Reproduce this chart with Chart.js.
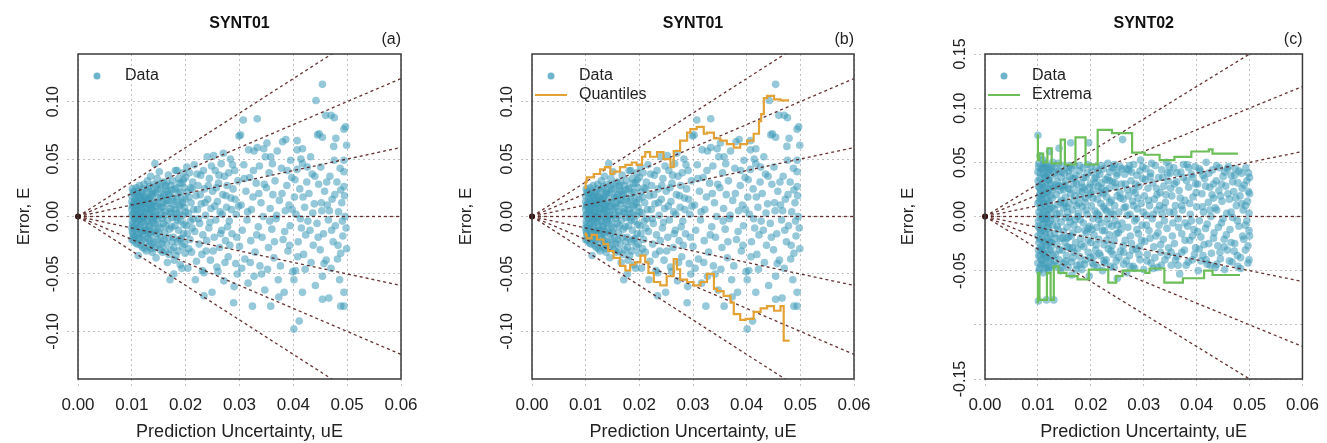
<!DOCTYPE html>
<html>
<head>
<meta charset="UTF-8">
<title>Error vs prediction uncertainty</title>
<script src="https://cdn.jsdelivr.net/npm/chart.js@4.4.0/dist/chart.umd.min.js"></script>
<style>
  body { margin: 0; background: #fff; }
  #wrap { position: relative; width: 1327px; height: 443px; }
  .panel { position: absolute; top: 0; height: 443px; }
</style>
</head>
<body>
<div id="wrap">
  <div class="panel" style="left:0px;width:442px"><canvas id="ca" width="442" height="443"></canvas></div>
  <div class="panel" style="left:442px;width:442px"><canvas id="cb" width="442" height="443"></canvas></div>
  <div class="panel" style="left:884px;width:443px"><canvas id="cc" width="443" height="443"></canvas></div>
</div>
<script>
// axis ticks
const xTicks = [0, 0.01, 0.02, 0.03, 0.04, 0.05, 0.06];
const yTicks01 = [-0.10, -0.05, 0, 0.05, 0.10];
const yTicks02 = [-0.15, -0.10, -0.05, 0, 0.05, 0.10, 0.15];
const yUnlabelled02 = [-0.10];
// reference lines E = k * uE
const fanSlopes = [-3, -2, -1, 0, 1, 2, 3];

// SYNT01 : [uE, E]
const synt01 = [
  [0.0100,0.018],[0.0100,-0.010],[0.0100,0.006],[0.0100,-0.020],[0.0100,0.013],[0.0101,-0.004],[0.0101,0.009],[0.0101,0.024],[0.0101,-0.013],
  [0.0102,-0.015],[0.0102,0.002],[0.0103,0.022],[0.0103,-0.021],[0.0104,0.012],[0.0104,-0.009],[0.0105,0.004],[0.0105,-0.002],
  [0.0106,0.016],[0.0106,-0.018],[0.0107,0.007],[0.0107,-0.012],[0.0108,0.025],[0.0108,-0.006],[0.0109,0.001],[0.0109,0.013],
  [0.0110,-0.024],[0.0110,0.020],[0.0111,-0.015],[0.0111,0.006],[0.0112,-0.034],[0.0112,-0.003],[0.0113,0.011],[0.0113,0.017],
  [0.0114,-0.010],[0.0114,0.027],[0.0115,-0.019],[0.0115,0.003],[0.0116,0.009],[0.0116,-0.007],[0.0117,0.015],[0.0117,-0.025],
  [0.0118,-0.001],[0.0118,0.021],[0.0119,-0.013],[0.0119,0.005],[0.0120,0.012],[0.0120,-0.020],[0.0121,-0.005],[0.0121,0.024],
  [0.0122,0.000],[0.0122,-0.016],[0.0123,0.010],[0.0123,0.018],[0.0124,-0.009],[0.0124,-0.028],[0.0125,0.004],[0.0125,0.014],
  [0.0126,-0.012],[0.0127,0.022],[0.0127,-0.030],[0.0128,0.007],[0.0129,-0.004],[0.0129,0.031],[0.0130,-0.019],[0.0131,0.014],
  [0.0131,0.002],[0.0132,-0.026],[0.0133,0.026],[0.0133,-0.008],[0.0134,0.010],[0.0135,-0.016],[0.0135,0.035],[0.0136,-0.001],
  [0.0137,0.019],[0.0138,-0.031],[0.0138,0.005],[0.0139,-0.011],[0.0140,0.028],[0.0141,-0.022],[0.0141,0.013],[0.0142,0.000],
  [0.0143,0.046],[0.0143,-0.006],[0.0144,0.021],[0.0145,-0.036],[0.0145,0.009],[0.0146,-0.015],[0.0147,0.033],[0.0148,-0.002],
  [0.0149,0.016],[0.0150,-0.025],[0.0150,0.006],[0.0151,0.039],[0.0152,-0.010],[0.0153,0.024],[0.0154,-0.019],[0.0155,0.002],
  [0.0156,0.012],[0.0157,-0.031],[0.0158,0.030],[0.0159,-0.006],[0.0160,0.019],
  [0.0161,-0.014],[0.0162,0.004],[0.0163,0.027],[0.0164,-0.024],[0.0165,0.011],[0.0166,-0.040],[0.0167,-0.003],[0.0168,0.036],
  [0.0169,0.018],[0.0170,-0.011],[0.0171,-0.055],[0.0172,0.007],[0.0173,-0.029],[0.0174,0.023],[0.0175,-0.001],[0.0176,0.031],
  [0.0177,-0.018],[0.0178,-0.050],[0.0179,0.013],[0.0180,-0.008],[0.0181,0.040],[0.0182,-0.034],[0.0183,0.003],[0.0184,0.040],
  [0.0185,-0.022],[0.0186,0.020],[0.0187,-0.012],[0.0188,0.009],[0.0189,0.029],[0.0190,-0.042],[0.0191,-0.004],[0.0192,0.016],
  [0.0193,0.029],[0.0194,-0.026],[0.0195,0.001],[0.0196,-0.015],[0.0197,0.025],[0.0198,0.008],[0.0199,-0.032],[0.0200,0.034],
  [0.0201,-0.008],[0.0203,0.021],[0.0204,-0.045],[0.0205,0.003],[0.0207,0.038],[0.0208,-0.020],[0.0210,0.012],[0.0211,-0.031],
  [0.0213,0.030],[0.0214,-0.002],[0.0216,0.045],[0.0217,-0.013],[0.0219,0.018],[0.0220,-0.039],[0.0222,0.006],[0.0223,0.027],
  [0.0225,-0.024],[0.0226,-0.006],[0.0228,0.036],[0.0229,0.011],[0.0231,-0.047],[0.0232,-0.016],[0.0234,-0.069],[0.0234,-0.049],
  [0.0235,0.024],[0.0237,0.001],[0.0238,-0.030],[0.0240,0.052],[0.0241,0.015],[0.0243,-0.010],[0.0244,0.033],[0.0246,-0.038],
  [0.0247,0.007],[0.0249,-0.066],[0.0250,0.022],[0.0252,0.053],[0.0253,-0.018],[0.0255,0.040],[0.0256,-0.003],[0.0258,-0.044],
  [0.0259,0.013],[0.0261,0.029],[0.0263,-0.027],[0.0264,0.004],[0.0266,0.046],[0.0267,-0.012],[0.0269,0.019],[0.0271,-0.056],
  [0.0272,0.035],[0.0274,-0.021],[0.0276,0.008],[0.0277,0.027],[0.0279,-0.035],[0.0281,-0.004],[0.0283,0.050],[0.0284,0.016],
  [0.0286,-0.015],[0.0288,0.024],[0.0289,-0.075],[0.0291,0.040],[0.0293,-0.041],[0.0294,0.002],[0.0296,-0.050],[0.0297,0.031],
  [0.0299,0.070],[0.0300,-0.026],
  [0.0302,0.071],[0.0303,0.010],[0.0305,-0.012],[0.0307,0.084],[0.0308,0.045],[0.0310,-0.037],[0.0312,0.022],[0.0314,-0.003],
  [0.0316,-0.058],[0.0317,0.058],[0.0319,0.034],[0.0321,-0.021],[0.0322,0.006],[0.0324,-0.078],[0.0325,0.017],[0.0327,-0.052],
  [0.0327,0.057],[0.0329,-0.031],[0.0331,0.029],[0.0333,0.085],[0.0333,0.060],[0.0335,-0.009],[0.0337,0.044],[0.0338,-0.043],
  [0.0340,0.012],[0.0342,-0.018],[0.0344,0.000],[0.0345,0.059],[0.0347,-0.064],[0.0348,0.052],[0.0350,0.025],[0.0352,-0.046],
  [0.0354,-0.027],[0.0355,0.038],[0.0357,0.007],[0.0358,-0.078],[0.0358,0.052],[0.0360,-0.011],[0.0362,0.019],[0.0364,-0.036],
  [0.0366,0.031],[0.0368,-0.002],[0.0370,0.057],[0.0372,-0.055],[0.0374,0.014],[0.0376,-0.043],[0.0378,0.042],[0.0380,0.065],
  [0.0381,-0.020],[0.0383,-0.066],[0.0385,0.005],[0.0386,0.067],[0.0388,0.027],[0.0390,-0.030],[0.0392,0.010],[0.0394,-0.008],
  [0.0395,0.049],[0.0397,0.034],[0.0399,-0.048],
  [0.0401,-0.098],[0.0401,-0.055],[0.0402,0.017],[0.0404,-0.047],[0.0405,0.002],[0.0407,0.066],[0.0407,0.058],[0.0407,0.041],
  [0.0409,-0.022],[0.0411,-0.091],[0.0412,0.024],[0.0414,0.050],[0.0415,-0.010],[0.0417,0.059],[0.0417,-0.066],[0.0417,0.046],
  [0.0419,-0.033],[0.0421,0.008],[0.0423,-0.016],[0.0425,0.030],[0.0427,-0.004],[0.0429,0.020],[0.0432,0.052],[0.0433,-0.040],
  [0.0435,0.037],[0.0437,-0.025],[0.0439,0.011],[0.0441,-0.060],[0.0442,0.101],[0.0444,-0.006],[0.0445,0.071],[0.0447,0.028],
  [0.0448,0.072],[0.0450,-0.029],[0.0451,0.043],[0.0453,0.005],[0.0454,0.115],[0.0454,0.069],[0.0454,-0.072],[0.0454,-0.052],
  [0.0456,-0.015],[0.0458,0.022],[0.0460,0.088],[0.0461,-0.038],[0.0463,0.010],[0.0465,-0.003],[0.0466,-0.071],[0.0468,0.035],
  [0.0470,0.088],[0.0470,-0.045],[0.0472,0.015],[0.0474,-0.022],[0.0475,0.061],[0.0476,0.086],[0.0476,0.049],[0.0478,-0.008],
  [0.0479,0.068],[0.0481,0.030],[0.0482,-0.037],[0.0484,0.004],[0.0486,-0.055],[0.0488,0.023],[0.0488,-0.032],[0.0488,-0.078],
  [0.0490,0.012],[0.0492,-0.017],[0.0494,0.076],[0.0494,0.049],[0.0494,0.039],[0.0494,0.026],[0.0494,-0.066],[0.0494,-0.078],
  [0.0496,0.000],[0.0497,0.078],[0.0498,-0.010],[0.0499,0.062],
  [0.01005,0.001],[0.01015,-0.007],[0.01025,0.010],[0.01035,-0.017],[0.01045,0.020],[0.01055,-0.001],[0.01065,0.005],[0.01075,-0.023],
  [0.01085,0.014],[0.01095,-0.010],[0.01105,0.009],[0.01115,0.022],[0.01125,-0.019],[0.01135,0.000],[0.01145,-0.004],[0.01155,0.018],
  [0.01165,-0.014],[0.01175,0.003],[0.01185,0.011],[0.01195,-0.027],[0.01205,0.017],[0.01215,-0.001],[0.01225,0.028],[0.01235,-0.012],
  [0.01245,0.007],[0.01255,-0.022],[0.01265,0.016],[0.01275,-0.003],[0.01285,0.012],[0.01295,-0.015],[0.01305,0.024],[0.01315,-0.009],
  [0.01325,0.003],[0.01335,-0.021],[0.01345,0.017],[0.01355,0.006],[0.01365,-0.028],[0.01375,0.010],[0.01385,-0.005],[0.01395,0.022],
  [0.0142,-0.013],[0.0144,0.004],[0.0146,0.027],[0.0147,-0.020],[0.0149,-0.008],[0.0151,0.012],[0.0153,-0.029],[0.0154,0.017],
  [0.0156,-0.002],[0.0158,0.008],[0.0160,-0.020],[0.0162,0.024],[0.0163,-0.008],[0.0165,0.030],[0.0167,0.014],[0.0169,-0.033],
  [0.0171,0.020],[0.0173,0.003],[0.0175,-0.022],[0.0177,0.010],[0.0179,-0.038],[0.0181,0.006],[0.0183,0.025],[0.0185,-0.003],
  [0.0187,0.033],[0.0189,-0.020],[0.0191,0.010],[0.0193,-0.045],[0.0195,0.038],[0.0197,-0.007],[0.0199,0.015],
  [0.0202,0.043],[0.0206,-0.028],[0.0209,0.025],[0.0212,-0.010],[0.0215,0.006],[0.0218,-0.055],[0.0221,0.037],[0.0224,-0.002],
  [0.0227,0.019],[0.0230,-0.033],[0.0233,0.040],[0.0236,0.012],[0.0239,-0.021],[0.0242,0.027],[0.0245,-0.005],[0.0248,0.044],
  [0.0251,-0.030],[0.0254,0.009],[0.0257,0.025],[0.0260,-0.048],[0.0262,0.036],[0.0265,-0.015],[0.0268,0.002],[0.0270,0.055],
  [0.0273,-0.040],[0.0275,0.018],[0.0278,-0.009],[0.0280,0.038],[0.0282,-0.025],[0.0285,0.006],[0.0287,0.045],[0.0290,-0.061],
  [0.0292,0.015],[0.0295,-0.018],[0.0298,0.009],
  [0.0304,-0.045],[0.0309,0.033],[0.0315,0.004],[0.0320,-0.040],[0.0326,0.040],[0.0332,-0.016],[0.0336,0.020],[0.0341,-0.050],
  [0.0346,0.028],[0.0351,0.064],[0.0356,-0.004],[0.0361,0.046],[0.0365,-0.022],[0.0369,0.001],[0.0373,-0.070],[0.0379,0.020],
  [0.0384,-0.013],[0.0389,0.040],[0.0393,-0.025],[0.0398,0.006],[0.0403,0.032],[0.0408,-0.035],[0.0413,-0.002],[0.0418,0.017],
  [0.0422,-0.046],[0.0426,0.043],[0.0431,-0.012],[0.0436,0.003],[0.0440,0.035],[0.0446,-0.018],[0.0452,0.012],[0.0457,-0.041],
  [0.0462,0.030],[0.0467,0.005],[0.0471,-0.012],[0.0477,0.019],[0.0483,-0.025],[0.0487,0.042],[0.0491,-0.004],[0.0495,0.018],
  [0.0499,-0.028],
  [0.0132,0.016],[0.0134,-0.014],[0.0136,0.008],[0.0137,-0.024],[0.0139,0.020],[0.0140,-0.003],[0.0142,0.011],[0.0144,-0.027],
  [0.0146,0.001],[0.0148,0.023],[0.0150,-0.014],[0.0152,0.028],[0.0154,0.008],[0.0156,-0.024],[0.0158,0.018],[0.0160,0.001],
  [0.0162,-0.030],[0.0164,0.014],[0.0166,0.022],[0.0168,-0.018],[0.0170,0.004],[0.0172,0.027],[0.0174,-0.009],[0.0176,0.016],
  [0.0178,-0.027],[0.0180,0.024],[0.0182,-0.001],[0.0184,0.015],[0.0186,-0.030],[0.0188,0.003],[0.0190,0.021],[0.0192,-0.019],
  [0.0194,0.012],[0.0196,0.032],[0.0198,-0.024],[0.0200,0.004],[0.0203,-0.015],[0.0206,0.017],[0.0209,-0.004],[0.0212,0.024]
];

// SYNT02 : [uE, E]
const synt02 = [
  [0.0100,0.075],[0.0100,0.041],[0.0100,0.012],[0.0100,-0.018],[0.0100,-0.043],[0.0101,-0.078],[0.0101,0.028],[0.0101,-0.004],
  [0.0101,-0.031],[0.0102,0.049],[0.0102,0.004],[0.0102,-0.024],[0.0103,0.019],[0.0103,-0.011],[0.0103,-0.048],[0.0104,0.056],
  [0.0104,0.035],[0.0104,-0.037],[0.0105,0.008],[0.0105,-0.015],[0.0106,0.024],[0.0106,-0.028],[0.0106,0.044],[0.0107,-0.002],
  [0.0107,-0.040],[0.0108,0.015],[0.0108,-0.021],[0.0109,0.031],[0.0109,-0.008],[0.0110,0.052],[0.0110,-0.052],[0.0110,0.002],
  [0.0111,0.039],[0.0111,-0.034],[0.0112,-0.014],[0.0112,0.021],[0.0113,0.010],[0.0113,-0.045],[0.0114,0.047],[0.0114,-0.026],
  [0.0115,-0.003],[0.0115,0.028],[0.0116,-0.077],[0.0116,0.016],[0.0116,-0.038],[0.0117,0.040],[0.0117,-0.010],[0.0118,0.006],
  [0.0118,-0.020],[0.0119,0.034],[0.0119,-0.047],[0.0120,-0.050],[0.0120,0.023],[0.0121,-0.006],[0.0121,0.043],[0.0122,0.060],
  [0.0122,-0.031],[0.0122,0.012],[0.0123,-0.017],[0.0124,0.030],[0.0124,-0.041],[0.0125,0.001],
  [0.0126,0.046],[0.0126,-0.024],[0.0127,0.017],[0.0128,-0.008],[0.0128,0.050],[0.0129,-0.045],[0.0130,-0.077],[0.0130,0.027],
  [0.0131,-0.016],[0.0131,0.007],[0.0132,0.038],[0.0133,-0.035],[0.0133,0.045],[0.0134,-0.002],[0.0135,0.020],[0.0135,-0.046],
  [0.0136,-0.026],[0.0137,0.032],[0.0137,0.011],[0.0138,-0.012],[0.0139,0.042],[0.0140,0.063],[0.0140,-0.040],[0.0141,0.003],
  [0.0142,0.024],[0.0142,-0.020],[0.0143,-0.050],[0.0144,0.036],[0.0144,-0.005],[0.0145,0.015],[0.0146,-0.031],[0.0146,0.047],
  [0.0147,0.028],[0.0148,-0.014],[0.0149,0.008],[0.0149,-0.043],[0.0150,0.040],[0.0151,-0.024],[0.0152,0.018],[0.0152,-0.001],
  [0.0153,0.033],[0.0154,-0.036],[0.0155,0.045],[0.0155,-0.010],[0.0156,0.004],[0.0157,-0.047],[0.0157,0.026],[0.0158,-0.019],
  [0.0159,0.012],[0.0160,0.037],[0.0160,-0.029],[0.0161,-0.005],[0.0162,0.068],[0.0162,0.021],[0.0163,-0.042],[0.0164,0.044],
  [0.0164,-0.054],[0.0165,0.006],[0.0166,-0.015],[0.0167,0.030],[0.0168,-0.033],[0.0168,0.015],[0.0169,0.047],[0.0170,-0.003],
  [0.0171,-0.024],[0.0172,0.038],[0.0173,0.010],[0.0174,-0.045],[0.0175,0.024],
  [0.0176,-0.012],[0.0177,0.003],[0.0178,0.042],[0.0179,-0.037],[0.0180,0.018],[0.0181,-0.020],[0.0182,0.031],[0.0183,-0.049],
  [0.0184,0.009],[0.0185,0.045],[0.0186,-0.006],[0.0187,-0.028],[0.0188,0.025],[0.0189,0.013],[0.0190,-0.040],[0.0191,0.036],
  [0.0192,-0.015],[0.0193,0.002],[0.0194,0.048],[0.0195,-0.033],[0.0196,0.068],[0.0196,0.020],[0.0197,-0.055],[0.0198,-0.009],
  [0.0199,0.030],[0.0200,-0.024],[0.0201,0.010],[0.0202,0.041],[0.0203,-0.043],[0.0204,-0.002],[0.0205,0.024],[0.0206,-0.017],
  [0.0207,0.035],[0.0208,0.005],[0.0209,-0.031],[0.0210,0.046],[0.0211,-0.010],[0.0212,0.016],[0.0213,-0.047],[0.0214,0.028],
  [0.0215,-0.021],[0.0216,0.001],[0.0217,0.039],[0.0218,-0.036],[0.0219,0.012],[0.0220,-0.006],[0.0221,0.031],[0.0222,-0.050],
  [0.0223,0.021],[0.0224,0.044],[0.0225,-0.026],[0.0226,-0.013],[0.0227,0.007],[0.0228,0.034],[0.0229,-0.040],[0.0230,0.018],
  [0.0231,-0.002],[0.0232,0.049],[0.0233,-0.030],[0.0234,0.026],[0.0235,-0.017],[0.0236,0.041],[0.0237,-0.046],[0.0238,0.004],
  [0.0239,0.015],[0.0240,-0.009],[0.0241,0.032],[0.0242,-0.035],[0.0243,0.045],[0.0244,-0.022],[0.0245,0.010],[0.0246,-0.004],
  [0.0247,0.027],[0.0248,-0.041],[0.0249,0.038],[0.0250,-0.057],[0.0250,0.019],
  [0.0252,-0.015],[0.0253,0.004],[0.0255,0.046],[0.0256,-0.032],[0.0258,0.030],[0.0259,-0.006],[0.0260,0.071],[0.0261,0.016],
  [0.0262,-0.044],[0.0264,0.039],[0.0265,-0.022],[0.0266,0.009],[0.0268,-0.052],[0.0269,0.025],[0.0270,-0.010],[0.0272,0.043],
  [0.0273,-0.036],[0.0274,0.002],[0.0276,0.033],[0.0277,-0.025],[0.0279,0.014],[0.0280,-0.046],[0.0281,0.048],[0.0283,-0.004],
  [0.0284,0.022],[0.0286,-0.030],[0.0287,0.038],[0.0288,0.007],[0.0290,-0.016],[0.0291,0.028],[0.0293,-0.040],[0.0294,0.052],
  [0.0295,0.012],[0.0297,-0.008],[0.0298,0.035],[0.0300,-0.049],[0.0301,0.019],[0.0302,-0.023],[0.0304,0.044],[0.0305,0.001],
  [0.0307,-0.035],[0.0308,0.026],[0.0310,-0.013],[0.0311,0.010],[0.0313,0.040],[0.0314,-0.043],[0.0316,-0.002],[0.0317,0.031],
  [0.0319,-0.028],[0.0320,0.016],[0.0322,0.047],[0.0323,-0.018],[0.0325,0.006],[0.0326,-0.047],[0.0328,0.036],[0.0329,-0.008],
  [0.0331,0.022],[0.0332,-0.033],[0.0334,0.043],[0.0335,0.002],[0.0337,-0.021],[0.0338,0.028],[0.0340,-0.040],[0.0341,0.013],
  [0.0343,0.050],[0.0344,-0.011],[0.0346,0.033],[0.0347,-0.029],[0.0349,0.004],[0.0350,0.040],
  [0.0352,-0.045],[0.0353,0.019],[0.0355,-0.006],[0.0357,0.045],[0.0358,-0.025],[0.0360,0.010],[0.0362,0.032],[0.0363,-0.037],
  [0.0365,-0.002],[0.0367,0.024],[0.0368,-0.053],[0.0370,0.041],[0.0372,-0.016],[0.0373,0.006],[0.0375,0.036],[0.0377,-0.031],
  [0.0378,0.015],[0.0380,-0.045],[0.0382,0.048],[0.0383,-0.009],[0.0385,0.027],[0.0387,-0.022],[0.0388,0.002],[0.0390,0.039],
  [0.0392,-0.040],[0.0393,0.018],[0.0395,-0.012],[0.0397,0.046],[0.0398,-0.029],[0.0400,0.009],[0.0402,0.030],[0.0403,-0.050],
  [0.0405,-0.004],[0.0407,0.042],[0.0408,-0.019],[0.0410,0.021],[0.0412,-0.036],[0.0413,0.004],[0.0415,0.035],[0.0417,-0.011],
  [0.0418,0.050],[0.0420,-0.044],[0.0422,0.013],[0.0423,-0.025],[0.0425,0.027],[0.0427,0.000],[0.0428,-0.034],[0.0430,0.043],
  [0.0432,0.017],[0.0433,-0.015],[0.0435,-0.047],[0.0437,0.033],[0.0438,0.006],[0.0440,-0.027],[0.0442,0.024],[0.0443,0.045],
  [0.0445,-0.039],[0.0447,-0.006],[0.0448,0.014],[0.0450,0.037],[0.0452,-0.021],[0.0453,-0.049],[0.0455,0.028],[0.0457,0.003],
  [0.0458,-0.031],[0.0460,0.046],[0.0462,0.016],[0.0463,-0.012],[0.0465,0.038],[0.0467,-0.042],[0.0468,-0.001],[0.0470,0.023],
  [0.0472,-0.025],[0.0473,0.044],[0.0475,0.010],[0.0477,-0.036],[0.0478,0.031],[0.0480,-0.009],[0.0482,0.019],[0.0483,-0.048],
  [0.0485,0.040],[0.0487,-0.018],[0.0488,0.006],[0.0490,0.029],[0.0492,-0.031],[0.0493,0.045],[0.0495,-0.004],[0.0496,0.014],
  [0.0497,-0.043],[0.0498,0.023],[0.0499,-0.013],[0.0500,0.036],
  [0.01005,0.033],[0.01005,-0.009],[0.01015,0.046],[0.01015,-0.036],[0.01025,0.014],[0.01025,-0.050],[0.01035,0.026],[0.01035,-0.021],
  [0.01045,0.001],[0.01045,0.040],[0.01055,-0.030],[0.01055,0.017],[0.01065,-0.044],[0.01065,0.008],[0.01075,0.030],[0.01075,-0.013],
  [0.01085,0.045],[0.01085,-0.033],[0.01095,0.020],[0.01095,-0.002],[0.01105,-0.043],[0.01105,0.027],[0.01115,0.012],[0.01115,-0.023],
  [0.01125,0.036],[0.01125,-0.006],[0.01135,-0.037],[0.01135,0.049],[0.01145,0.004],[0.01145,-0.016],[0.01155,0.037],[0.01155,-0.048],
  [0.01165,0.022],[0.01165,-0.027],[0.01175,0.046],[0.01175,0.001],[0.01185,-0.035],[0.01185,0.014],[0.01195,0.026],[0.01195,-0.011],
  [0.01205,0.040],[0.01205,-0.040],[0.01215,0.007],[0.01215,-0.023],[0.01225,0.033],[0.01225,-0.047],[0.01235,0.019],[0.01235,-0.004],
  [0.01245,0.044],[0.01245,-0.030],[0.01265,0.008],[0.01285,-0.036],[0.01305,0.040],[0.01325,-0.020],[0.01345,0.029],[0.01365,-0.009],
  [0.01385,0.049],[0.01405,-0.031],[0.01425,0.013],[0.01445,0.041],[0.01465,-0.020],[0.01485,0.025],
  [0.0151,0.029],[0.0153,-0.041],[0.0154,0.009],[0.0156,-0.028],[0.0158,0.042],[0.0159,-0.001],[0.0161,0.025],[0.0163,-0.018],
  [0.0165,0.035],[0.0166,-0.038],[0.0168,-0.008],[0.0170,0.019],[0.0172,-0.049],[0.0173,0.030],[0.0175,-0.030],[0.0177,0.012],
  [0.0179,0.047],[0.0180,-0.003],[0.0182,-0.026],[0.0184,0.023],[0.0186,0.036],[0.0188,-0.044],[0.0189,-0.013],[0.0191,0.006],
  [0.0193,0.040],[0.0195,-0.022],[0.0197,0.027],[0.0199,-0.038],[0.0200,0.046],[0.0202,-0.012],[0.0204,0.017],[0.0206,-0.045],
  [0.0208,0.031],[0.0210,-0.026],[0.0212,0.003],[0.0214,0.042],[0.0216,-0.034],[0.0218,0.022],[0.0220,0.047],[0.0222,-0.013],
  [0.0224,0.009],[0.0226,-0.043],[0.0228,0.024],[0.0230,-0.022],[0.0232,0.036],[0.0234,-0.007],[0.0236,0.013],[0.0238,-0.032],
  [0.0240,0.045],[0.0242,0.002],[0.0244,-0.047],[0.0246,0.031],[0.0248,-0.016],[0.0250,0.040],
  [0.0253,-0.038],[0.0255,0.022],[0.0257,-0.012],[0.0259,0.044],[0.0261,-0.027],[0.0263,0.008],[0.0265,0.030],[0.0267,-0.041],
  [0.0269,0.001],[0.0271,0.019],[0.0273,0.047],[0.0275,-0.018],[0.0277,0.041],[0.0279,-0.031],[0.0281,0.010],[0.0283,-0.048],
  [0.0285,0.030],[0.0287,-0.012],[0.0289,0.017],[0.0291,-0.035],[0.0293,0.042],[0.0296,-0.022],[0.0299,0.004],[0.0303,0.034],
  [0.0306,-0.041],[0.0309,0.015],[0.0312,-0.020],[0.0315,0.049],[0.0318,0.002],[0.0321,-0.038],[0.0324,0.026],[0.0327,-0.015],
  [0.0330,0.010],[0.0333,-0.045],[0.0336,0.036],[0.0339,-0.004],[0.0342,0.020],[0.0345,-0.036],[0.0348,0.046],
  [0.0351,0.026],[0.0354,-0.018],[0.0357,0.004],[0.0360,-0.040],[0.0363,0.040],[0.0366,-0.010],[0.0369,0.017],[0.0372,-0.033],
  [0.0375,0.048],[0.0378,-0.022],[0.0381,0.033],[0.0384,-0.042],[0.0387,0.012],[0.0390,-0.004],[0.0393,0.036],[0.0396,-0.035],
  [0.0399,0.022],[0.0402,-0.014],[0.0405,0.044],[0.0408,-0.041],[0.0411,0.009],[0.0414,-0.026],[0.0417,0.028],[0.0420,-0.007],
  [0.0423,0.040],[0.0426,-0.045],[0.0429,0.020],[0.0432,-0.020],[0.0435,0.008],[0.0438,0.047],[0.0441,-0.010],[0.0444,-0.033],
  [0.0447,0.030],[0.0450,-0.002],[0.0453,0.041],[0.0456,-0.017],[0.0459,0.021],[0.0462,-0.041],[0.0465,0.004],[0.0468,0.032],
  [0.0471,-0.032],[0.0474,0.017],[0.0477,-0.004],[0.0480,0.042],[0.0483,-0.038],[0.0486,0.026],[0.0489,-0.021],[0.0492,0.010],
  [0.0495,0.033],[0.0497,-0.027],[0.0499,0.003],[0.0500,-0.018],[0.0500,0.021],[0.0499,-0.040],
  [0.0104,0.021],[0.0108,-0.031],[0.0112,0.045],[0.0116,-0.002],[0.0120,0.034],[0.0124,-0.024],[0.0128,0.025],[0.0132,-0.041],
  [0.0136,0.002],[0.0140,0.028],[0.0145,-0.047],[0.0150,0.012],[0.0155,-0.020],[0.0160,0.047],[0.0165,-0.029],[0.0170,0.035],
  [0.0175,0.000],[0.0180,-0.044],[0.0185,0.027],[0.0190,0.017],[0.0195,-0.011],[0.0200,0.021],[0.0205,-0.037],[0.0210,0.036],
  [0.0215,-0.003],[0.0220,0.026],[0.0225,-0.041],[0.0230,0.005],[0.0235,0.033],[0.0240,-0.027],[0.0245,0.048],[0.0250,-0.008],
  [0.0256,0.017],[0.0262,-0.033],[0.0268,0.044],[0.0274,-0.046],[0.0280,0.024],[0.0286,-0.002],[0.0292,-0.028],[0.0298,0.046],
  [0.0305,-0.008],[0.0312,0.037],[0.0318,-0.048],[0.0325,0.020],[0.0332,-0.026],[0.0338,0.008],[0.0345,0.040],[0.0352,-0.033],
  [0.0358,0.030],[0.0365,-0.045],[0.0372,0.010],[0.0378,-0.006],[0.0385,0.045],[0.0392,-0.018],[0.0398,0.030],[0.0405,-0.030],
  [0.0412,0.038],[0.0418,-0.040],[0.0425,0.006],[0.0432,0.030],[0.0438,-0.044],[0.0445,0.019],[0.0452,-0.028],[0.0458,0.044],
  [0.0465,-0.024],[0.0472,0.038],[0.0478,-0.046],[0.0485,0.012],[0.0492,-0.008],[0.0498,0.040]
];

// running quantiles for SYNT01 (step lines)
const quantUpper = [
  [0.0100,0.024],[0.0102,0.030],[0.0115,0.034],[0.0127,0.037],[0.0136,0.041],[0.0146,0.043],[0.0152,0.037],[0.0164,0.039],
  [0.0174,0.043],[0.0186,0.045],[0.0195,0.047],[0.0205,0.045],[0.0211,0.052],[0.0220,0.056],[0.0233,0.052],[0.0245,0.056],
  [0.0258,0.050],[0.0264,0.043],[0.0276,0.057],[0.0289,0.066],[0.0295,0.073],[0.0307,0.076],[0.0320,0.078],[0.0326,0.072],
  [0.0339,0.073],[0.0351,0.068],[0.0363,0.066],[0.0376,0.063],[0.0388,0.060],[0.0401,0.063],[0.0413,0.066],[0.0423,0.072],
  [0.0427,0.083],[0.0432,0.089],[0.0438,0.103],[0.0451,0.105],[0.0463,0.102],[0.0475,0.101],[0.0479,0.101]
];
const quantLower = [
  [0.0100,-0.014],[0.0102,-0.016],[0.0111,-0.019],[0.0121,-0.016],[0.0133,-0.020],[0.0142,-0.024],[0.0152,-0.030],[0.0164,-0.036],
  [0.0174,-0.043],[0.0183,-0.047],[0.0192,-0.042],[0.0202,-0.040],[0.0211,-0.034],[0.0217,-0.040],[0.0227,-0.049],[0.0239,-0.057],
  [0.0251,-0.060],[0.0264,-0.052],[0.0270,-0.037],[0.0276,-0.046],[0.0289,-0.055],[0.0301,-0.057],[0.0314,-0.060],[0.0326,-0.057],
  [0.0339,-0.050],[0.0345,-0.063],[0.0357,-0.065],[0.0370,-0.069],[0.0376,-0.075],[0.0388,-0.085],[0.0398,-0.090],[0.0413,-0.089],
  [0.0426,-0.083],[0.0438,-0.080],[0.0451,-0.078],[0.0463,-0.082],[0.0469,-0.078],[0.0472,-0.108],[0.0480,-0.108]
];

// running extrema for SYNT02 (step lines)
const extUpper = [
  [0.0100,0.076],[0.0103,0.052],[0.0110,0.058],[0.0118,0.050],[0.0126,0.063],[0.0143,0.049],[0.0151,0.071],[0.0171,0.048],
  [0.0190,0.073],[0.0213,0.048],[0.0240,0.080],[0.0278,0.077],[0.0302,0.059],[0.0330,0.057],[0.0358,0.052],[0.0390,0.055],
  [0.0423,0.060],[0.0430,0.062],[0.0464,0.058],[0.0478,0.058]
];
const extLower = [
  [0.0100,-0.080],[0.0103,-0.052],[0.0117,-0.077],[0.0124,-0.052],[0.0130,-0.077],[0.0139,-0.046],[0.0154,-0.052],[0.0175,-0.055],
  [0.0196,-0.058],[0.0233,-0.049],[0.0248,-0.061],[0.0260,-0.055],[0.0303,-0.050],[0.0311,-0.052],[0.0339,-0.048],[0.0374,-0.061],
  [0.0414,-0.057],[0.0430,-0.050],[0.0464,-0.054],[0.0482,-0.054]
];

const pointColor = 'rgba(62,155,184,0.55)';
const fanColor = 'rgba(85,28,28,0.9)';
const gridColor = 'rgba(150,150,150,0.6)';
const quantColor = '#E3A236';
const extColor = '#6CBE58';
const xMax = 0.06;

Chart.defaults.font.family = '"Liberation Sans", Arial, Helvetica, sans-serif';
Chart.defaults.color = '#222';

// legend symbols as small canvases
function symbol(kind, color) {
  const c = document.createElement('canvas');
  c.width = 36; c.height = 10;
  const g = c.getContext('2d');
  if (kind === 'dot') {
    g.fillStyle = color;
    g.beginPath(); g.arc(16, 5, 3.5, 0, Math.PI * 2); g.fill();
  } else {
    g.strokeStyle = color; g.lineWidth = 2;
    g.beginPath(); g.moveTo(0, 5); g.lineTo(32, 5); g.stroke();
  }
  return c;
}

// R-style box round the plot region
const framePlugin = {
  id: 'frame',
  afterDraw(chart) {
    const a = chart.chartArea, ctx = chart.ctx;
    ctx.save();
    ctx.strokeStyle = '#3a3a3a';
    ctx.lineWidth = 1.5;
    ctx.strokeRect(a.left, a.top, a.right - a.left, a.bottom - a.top);
    ctx.restore();
  }
};

function makePanel(id, cfg) {
  const datasets = [];
  datasets.push({ data: [[0, 0]], pointRadius: 3, backgroundColor: '#3b1414', borderWidth: 0, order: 0, clip: 6 });
  cfg.steps.forEach(s => datasets.push({
    data: s, showLine: true, stepped: 'after', borderColor: cfg.stepColor, borderWidth: 2.2,
    pointRadius: 0, order: 1
  }));
  fanSlopes.forEach(k => datasets.push({
    data: [[0, 0], [xMax, k * xMax]], showLine: true, borderColor: fanColor, borderWidth: 1.3,
    borderDash: [3, 3], pointRadius: 0, order: 2
  }));
  datasets.push({ data: cfg.points, pointRadius: 3.8, backgroundColor: pointColor, borderWidth: 0, order: 3 });

  const legendItems = [{ text: 'Data', pointStyle: symbol('dot', 'rgba(62,155,184,0.75)') }];
  if (cfg.stepLabel) legendItems.push({ text: cfg.stepLabel, pointStyle: symbol('line', cfg.stepColor) });

  new Chart(document.getElementById(id), {
    type: 'scatter',
    data: { datasets },
    plugins: [framePlugin],
    options: {
      responsive: false,
      animation: false,
      events: [],
      layout: { padding: { left: 0, right: cfg.padRight, top: 0, bottom: 0 } },
      plugins: {
        tooltip: { enabled: false },
        title: {
          display: true, text: cfg.title, fullSize: false, color: '#111',
          font: { size: 16, weight: 'bold', lineHeight: 1 }, padding: { top: 16, bottom: 0 }
        },
        subtitle: {
          display: true, text: cfg.tag, fullSize: false, align: 'end', color: '#222',
          font: { size: 16, lineHeight: 1 }, padding: { top: 0, bottom: 6 }
        },
        legend: {
          position: 'chartArea', align: 'start',
          // the chartArea legend is laid out from the canvas top, so an empty title pushes it down into the plot
          title: { display: true, text: '', font: { size: 1, lineHeight: 0 }, padding: { top: 65, bottom: 0 } },
          labels: {
            usePointStyle: true, pointStyleWidth: 36, padding: 3, color: '#333',
            font: { size: 16 },
            generateLabels: () => legendItems.map((it, i) => ({
              text: it.text, pointStyle: it.pointStyle, fillStyle: 'transparent',
              strokeStyle: 'transparent', lineWidth: 0, hidden: false, datasetIndex: i
            }))
          }
        }
      },
      scales: {
        x: {
          type: 'linear', min: 0, max: xMax,
          afterBuildTicks: s => { s.ticks = xTicks.map(v => ({ value: v })); },
          afterFit: s => { s.height = 64; },
          ticks: { autoSkip: false, maxRotation: 0, minRotation: 0, padding: 8, font: { size: 17 },
                   callback: v => v.toFixed(2) },
          grid: { color: gridColor, tickLength: 8, tickColor: gridColor, tickBorderDash: [2, 3] },
          border: { display: false, dash: [2, 3] },
          title: { display: true, text: 'Prediction Uncertainty, uE', font: { size: 18 }, padding: { top: 0, bottom: 0 } }
        },
        y: {
          type: 'linear', min: cfg.yMin, max: cfg.yMax,
          afterBuildTicks: s => { s.ticks = cfg.yTicks.map(v => ({ value: v })); },
          afterFit: s => { s.width = cfg.left; },
          ticks: { autoSkip: false, minRotation: 90, maxRotation: 90, crossAlign: 'center', padding: -5,
                   font: { size: 16 },
                   callback: v => (cfg.skip || []).some(u => Math.abs(u - v) < 1e-9) ? '' : v.toFixed(2) },
          grid: { color: gridColor, tickLength: 11, tickColor: gridColor, tickBorderDash: [2, 3] },
          border: { display: false, dash: [2, 3] },
          title: { display: true, text: 'Error, E', font: { size: 17 }, padding: { top: 14, bottom: 0 } }
        }
      }
    }
  });
}

makePanel('ca', { title: 'SYNT01', tag: '(a)', points: synt01, steps: [], left: 78, padRight: 41,
  yMin: -0.1414, yMax: 0.1414, yTicks: yTicks01 });
makePanel('cb', { title: 'SYNT01', tag: '(b)', points: synt01, steps: [quantUpper, quantLower],
  stepColor: quantColor, stepLabel: 'Quantiles', left: 90, padRight: 30,
  yMin: -0.1414, yMax: 0.1414, yTicks: yTicks01 });
makePanel('cc', { title: 'SYNT02', tag: '(c)', points: synt02, steps: [extUpper, extLower],
  stepColor: extColor, stepLabel: 'Extrema', left: 101, padRight: 19,
  yMin: -0.15, yMax: 0.15, yTicks: yTicks02, skip: yUnlabelled02 });
</script>
</body>
</html>
